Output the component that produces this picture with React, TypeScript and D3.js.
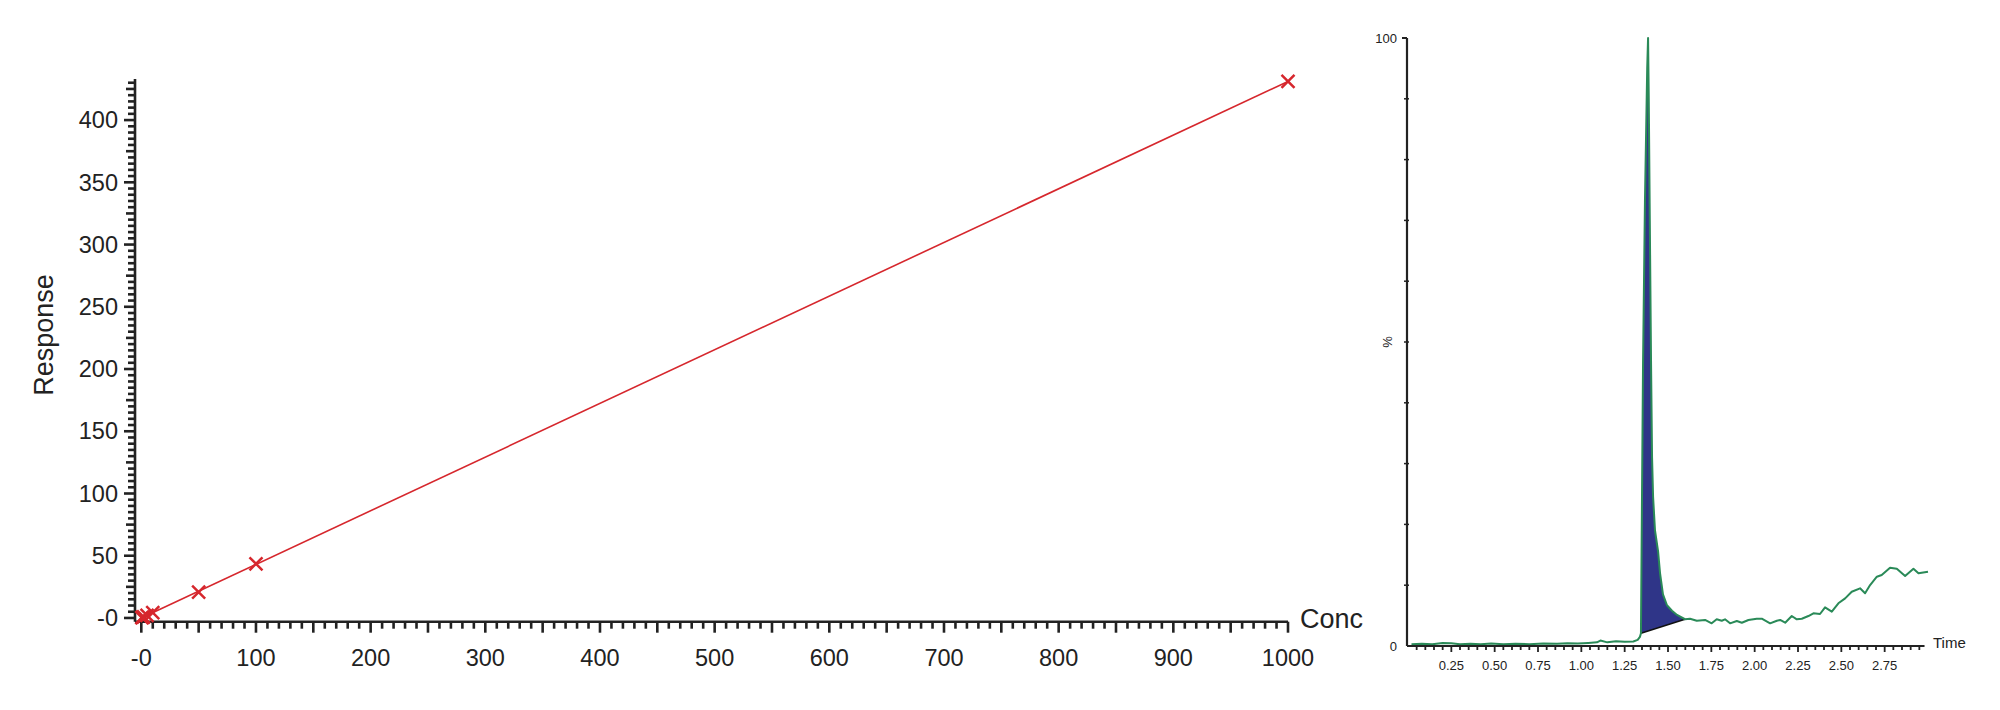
import React from "react";
import * as d3 from "d3";

// calibration curve (left)
const calibConc = [0.5, 1, 2, 5, 10, 50, 100, 1000];
const calibResponse = [0.2, 0.4, 0.9, 2.1, 4.3, 20.8, 43.5, 431];
const concTicks = [0, 100, 200, 300, 400, 500, 600, 700, 800, 900, 1000];
const responseTicks = [0, 50, 100, 150, 200, 250, 300, 350, 400];

// chromatogram (right)
const chromTime = [
  0.02, 0.08, 0.14, 0.2, 0.25, 0.3, 0.36, 0.42, 0.48, 0.55, 0.62, 0.7, 0.78, 0.86, 0.92, 0.98,
  1.04, 1.09, 1.11, 1.15, 1.2, 1.25, 1.3, 1.325, 1.338,
  1.344, 1.35, 1.356, 1.367, 1.38, 1.385, 1.389, 1.395, 1.402, 1.408, 1.414, 1.425, 1.443,
  1.454, 1.471, 1.494, 1.523, 1.552, 1.598,
  1.627, 1.666, 1.714, 1.752, 1.781, 1.81, 1.829, 1.858, 1.897, 1.926, 1.964, 2.012, 2.041,
  2.089, 2.128, 2.147, 2.176, 2.214, 2.243, 2.272, 2.31, 2.339, 2.377, 2.406, 2.445, 2.483,
  2.522, 2.56, 2.608, 2.637, 2.666, 2.705, 2.733, 2.781, 2.82, 2.868, 2.916, 2.945, 3.0,
];
const chromIntensity = [
  0.3, 0.35, 0.3, 0.5, 0.45, 0.3, 0.35, 0.3, 0.4, 0.3, 0.35, 0.3, 0.4, 0.35, 0.45, 0.4,
  0.5, 0.6, 0.9, 0.6, 0.8, 0.7, 0.75, 1.0, 1.5,
  2.1, 24.5, 46.5, 73, 95, 100, 90, 70, 47, 31, 24.5, 19, 15.5,
  12, 8.5, 6.7, 5.8, 5.1, 4.4,
  4.49, 4.16, 4.28, 3.73, 4.39, 4.16, 4.39, 3.73, 4.11, 3.83, 4.28, 4.49, 4.49,
  3.73, 4.16, 4.28, 3.83, 4.93, 4.39, 4.49, 4.93, 5.38, 5.26, 6.36, 5.64, 7.02,
  7.84, 8.93, 9.49, 8.67, 10.03, 11.4, 11.68, 12.88, 12.71, 11.51, 12.71, 11.96, 12.23,
];
const peakStart = 1.344;
const peakEnd = 1.598;
const timeTicks = [0.25, 0.5, 0.75, 1.0, 1.25, 1.5, 1.75, 2.0, 2.25, 2.5, 2.75];

const FONT = "'Liberation Sans', Arial, Helvetica, sans-serif";
const RED = "#d6272d";
const GREEN = "#2a8a58";
const NAVY = "#2f3588";
const INK = "#222";

function CalibrationChart() {
  const x = d3.scaleLinear().domain([-5.5, 1000]).range([135, 1288]);
  const y = d3.scaleLinear().domain([-3, 433]).range([621.7, 79]);

  // least squares fit through the standards
  const mx = d3.mean(calibConc)!;
  const my = d3.mean(calibResponse)!;
  const slope =
    d3.sum(calibConc, (c, i) => (c - mx) * (calibResponse[i] - my)) /
    d3.sum(calibConc, (c) => (c - mx) ** 2);
  const icpt = my - slope * mx;
  const fitX = [0, 1000];
  const line = d3.line<number>().x((c) => x(c)).y((c) => y(icpt + slope * c));

  const minorX = d3.range(0, 1001, 10);
  const minorY = d3.range(0, 431, 5);
  const fmt = (v: number) => (v === 0 ? "-0" : String(v));
  const ax = x(-5.5);
  const ay = y(-3);

  return (
    <g fontFamily={FONT} fill={INK}>
      {/* y axis */}
      <line x1={ax} x2={ax} y1={y(433)} y2={ay} stroke={INK} strokeWidth={2.6} />
      {minorY.map((v) => {
        const len = v % 50 === 0 ? 11 : v % 25 === 0 ? 9 : 7;
        return <line key={v} x1={ax - len} x2={ax} y1={y(v)} y2={y(v)} stroke={INK} strokeWidth={2.6} />;
      })}
      {responseTicks.map((v) => (
        <text key={v} x={118} y={y(v)} dy="0.35em" textAnchor="end" fontSize={23.5}>
          {fmt(v)}
        </text>
      ))}
      <text transform={`translate(44,335) rotate(-90)`} textAnchor="middle" dy="0.35em" fontSize={27}>
        Response
      </text>

      {/* x axis */}
      <line x1={ax} x2={x(1000)} y1={ay} y2={ay} stroke={INK} strokeWidth={2.6} />
      {minorX.map((v) => {
        const len = v % 50 === 0 ? 11 : 7;
        return <line key={v} x1={x(v)} x2={x(v)} y1={ay} y2={ay + len} stroke={INK} strokeWidth={2.6} />;
      })}
      {concTicks.map((v) => (
        <text key={v} x={x(v)} y={666} textAnchor="middle" fontSize={23.5}>
          {fmt(v)}
        </text>
      ))}
      <text x={1300} y={628} fontSize={27}>Conc</text>

      {/* fit line and standards */}
      <path d={line(fitX)!} fill="none" stroke={RED} strokeWidth={1.6} />
      {calibConc.map((c, i) => {
        const cx = x(c);
        const cy = y(calibResponse[i]);
        const s = 6.5;
        return (
          <path
            key={i}
            d={`M${cx - s},${cy - s}L${cx + s},${cy + s}M${cx - s},${cy + s}L${cx + s},${cy - s}`}
            stroke={RED}
            strokeWidth={2.5}
            fill="none"
          />
        );
      })}
    </g>
  );
}

function Chromatogram() {
  const x = d3.scaleLinear().domain([0, 3.0]).range([1408, 1928]);
  const y = d3.scaleLinear().domain([0, 100]).range([646, 38]);
  const pts = chromTime.map((t, i) => [t, chromIntensity[i]] as [number, number]);

  const line = d3.line<[number, number]>().x((d) => x(d[0])).y((d) => y(d[1]));

  const vStart = chromIntensity[chromTime.indexOf(peakStart)];
  const vEnd = chromIntensity[chromTime.indexOf(peakEnd)];
  const base = d3.scaleLinear().domain([peakStart, peakEnd]).range([vStart, vEnd]);
  const peakPts = pts.filter((d) => d[0] >= peakStart && d[0] <= peakEnd);
  const area = d3
    .area<[number, number]>()
    .x((d) => x(d[0]))
    .y0((d) => y(base(d[0])))
    .y1((d) => y(d[1]));

  const minorX = d3.range(1, 60).map((k) => k * 0.05);
  const minorY = d3.range(10, 100, 10);
  const x0 = 1407;

  return (
    <g fontFamily={FONT} fill={INK}>
      <path d={area(peakPts)!} fill={NAVY} stroke="none" />
      <line
        x1={x(peakStart)}
        y1={y(vStart)}
        x2={x(peakEnd)}
        y2={y(vEnd)}
        stroke="#111"
        strokeWidth={1.5}
      />
      <path d={line(pts)!} fill="none" stroke={GREEN} strokeWidth={2} strokeLinejoin="round" />

      {/* y axis */}
      <line x1={x0} x2={x0} y1={y(100)} y2={y(0)} stroke={INK} strokeWidth={2.2} />
      <line x1={x0 - 5} x2={x0} y1={y(100)} y2={y(100)} stroke={INK} strokeWidth={2} />
      {minorY.map((v) => (
        <line key={v} x1={x0 - 3} x2={x0 + 2} y1={y(v)} y2={y(v)} stroke={INK} strokeWidth={1.5} />
      ))}
      <text x={1397} y={y(100)} dy="0.35em" textAnchor="end" fontSize={13}>100</text>
      <text x={1397} y={y(0)} dy="0.35em" textAnchor="end" fontSize={13}>0</text>
      <text transform={`translate(1387,${y(50)}) rotate(-90)`} textAnchor="middle" dy="0.35em" fontSize={13}>
        %
      </text>

      {/* x axis */}
      <line x1={x0} x2={x(2.98)} y1={y(0)} y2={y(0)} stroke={INK} strokeWidth={2.2} />
      {minorX.map((t, i) => {
        const len = (i + 1) % 5 === 0 ? 6 : 4;
        return <line key={i} x1={x(t)} x2={x(t)} y1={y(0)} y2={y(0) + len} stroke={INK} strokeWidth={1.8} />;
      })}
      {timeTicks.map((t) => (
        <text key={t} x={x(t)} y={670} textAnchor="middle" fontSize={13}>
          {t.toFixed(2)}
        </text>
      ))}
      <text x={1933} y={648} fontSize={15}>Time</text>
    </g>
  );
}

export default function App() {
  return (
    <svg
      width={2000}
      height={710}
      style={{ position: "absolute", left: 0, top: 0, display: "block", background: "#fff" }}
    >
      <CalibrationChart />
      <Chromatogram />
    </svg>
  );
}
